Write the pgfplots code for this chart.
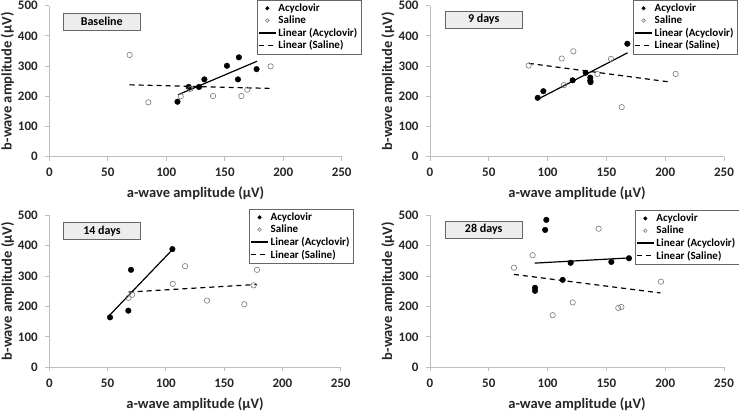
\documentclass[border=0pt]{standalone}
\usepackage{fontspec}
\setmainfont{Carlito}
\usepackage{pgfplots}
\pgfplotsset{compat=1.18}
\definecolor{axgray}{RGB}{190,190,190}
\definecolor{mkgray}{RGB}{120,120,120}
\tikzset{tbox/.style={draw=black!60, fill=black!7, minimum width=77pt, minimum height=17pt,
   anchor=north west, inner sep=0pt, font=\fontsize{12}{14}\selectfont\bfseries}}
\begin{document}
\begin{tikzpicture}[x=1pt,y=1pt]
\useasboundingbox (0,0) rectangle (739,411);
\pgfplotsset{
 panel/.style={
  scale only axis, clip=false,
  xmin=0,xmax=250,ymin=0,ymax=500,
  xtick={0,50,...,250}, ytick={0,100,...,500},
  axis x line*=bottom, axis y line*=left,
  axis line style={draw=axgray, line width=0.8pt},
  tick style={draw=axgray, line width=0.8pt},
  major tick length=4pt, tick align=outside,
  /pgf/number format/assume math mode=true,
  ticklabel style={font=\fontsize{13}{15}\selectfont\bfseries, text=black!85},
  xticklabel style={yshift=-4pt},
  yticklabel style={xshift=-4pt},
  xlabel={a-wave amplitude (µV)}, ylabel={b-wave amplitude (µV)},
  label style={font=\fontsize{14.5}{16}\selectfont\bfseries, text=black!85},
  xlabel style={at={(axis description cs:0.5,-0.24)}, anchor=center},
  ylabel style={at={(axis description cs:-0.143,0.5)}, anchor=center},
  legend style={draw=black!60, fill=white, font=\fontsize{11}{12}\selectfont\bfseries,
    inner sep=1.5pt, row sep=-1pt, anchor=north east},
  legend cell align=left,
  legend image post style={mark size=1.8pt},
 },
 acy/.style={only marks, mark=*, mark size=2.8pt, black},
 sal/.style={only marks, mark=o, mark size=2.7pt, mkgray, mark options={fill=white, line width=0.6pt}},
 lina/.style={black, line width=1.2pt, no marks},
 lins/.style={black, line width=1.2pt, no marks, dash pattern=on 5pt off 4pt},
}
% Baseline
\begin{axis}[panel, at={(49.3pt,254.3pt)}, anchor=south west, width=292.4pt, height=151pt,
  legend style={at={(axis description cs:1.066,1.038)}}]
\addplot[acy] coordinates {(109.6,182) (119.2,231) (128,231) (132.6,256) (151.9,301) (162.1,329) (161.3,256) (177.2,290)};
\addlegendentry{Acyclovir}
\addplot[sal] coordinates {(68.7,337) (84.7,180) (112.4,200) (120.6,224) (140,201) (164.2,201) (169.3,222) (189.2,299)};
\addlegendentry{Saline}
\addplot[lina] coordinates {(110,205) (177.6,316)};
\addlegendentry{Linear (Acyclovir)}
\addplot[lins] coordinates {(68.7,238) (189.8,226)};
\addlegendentry{Linear (Saline)}
\node[tbox] at (axis description cs:0.047,0.952) {Baseline};
\end{axis}
% 9 days
\begin{axis}[panel, at={(430pt,254.3pt)}, anchor=south west, width=294pt, height=151pt,
  legend style={at={(axis description cs:1.045,1.038)}}]
\addplot[acy] coordinates {(91.6,195) (96.4,217) (121.3,253) (132.4,278) (136.3,262) (136.3,252) (136.5,247) (167.8,374)};
\addlegendentry{Acyclovir}
\addplot[sal] coordinates {(83.9,302) (112,325) (121.9,349) (113.9,237) (142.3,274) (153.9,324) (163,164) (208.9,274)};
\addlegendentry{Saline}
\addplot[lina] coordinates {(92,191) (168,344)};
\addlegendentry{Linear (Acyclovir)}
\addplot[lins] coordinates {(84,309) (204.6,247)};
\addlegendentry{Linear (Saline)}
\node[tbox] at (axis description cs:0.051,0.965) {9 days};
\end{axis}
% 14 days
\begin{axis}[panel, at={(49.3pt,43.7pt)}, anchor=south west, width=291.4pt, height=152.3pt,
  legend style={at={(axis description cs:1.043,1.039)}}]
\addplot[acy] coordinates {(52.1,164) (67.8,186) (70.1,320) (105.6,388)};
\addlegendentry{Acyclovir}
\addplot[sal] coordinates {(68,228) (71,238) (105.9,274) (116.5,332) (135.3,219) (167.3,207) (175.3,269) (178.2,320)};
\addlegendentry{Saline}
\addplot[lina] coordinates {(51.5,170) (105.8,387)};
\addlegendentry{Linear (Acyclovir)}
\addplot[lins] coordinates {(68,247) (178.2,272)};
\addlegendentry{Linear (Saline)}
\node[tbox] at (axis description cs:0.048,0.952) {14 days};
\end{axis}
% 28 days
\begin{axis}[panel, at={(430pt,43.7pt)}, anchor=south west, width=294pt, height=152.3pt,
  legend style={at={(axis description cs:1.051,1.032)}}]
\addplot[acy] coordinates {(98.9,484) (97.9,451) (89.3,261) (89.3,251) (112.8,287) (119.6,343) (154.2,346) (169.2,358)};
\addlegendentry{Acyclovir}
\addplot[sal] coordinates {(71.4,327) (87.3,368) (104.3,171) (121.3,213) (143.4,455) (160.1,195) (162.7,198) (196.4,281)};
\addlegendentry{Saline}
\addplot[lina] coordinates {(89,342) (169.2,359)};
\addlegendentry{Linear (Acyclovir)}
\addplot[lins] coordinates {(71.4,305) (196,244)};
\addlegendentry{Linear (Saline)}
\node[tbox] at (axis description cs:0.051,0.961) {28 days};
\end{axis}
\end{tikzpicture}
\end{document}
